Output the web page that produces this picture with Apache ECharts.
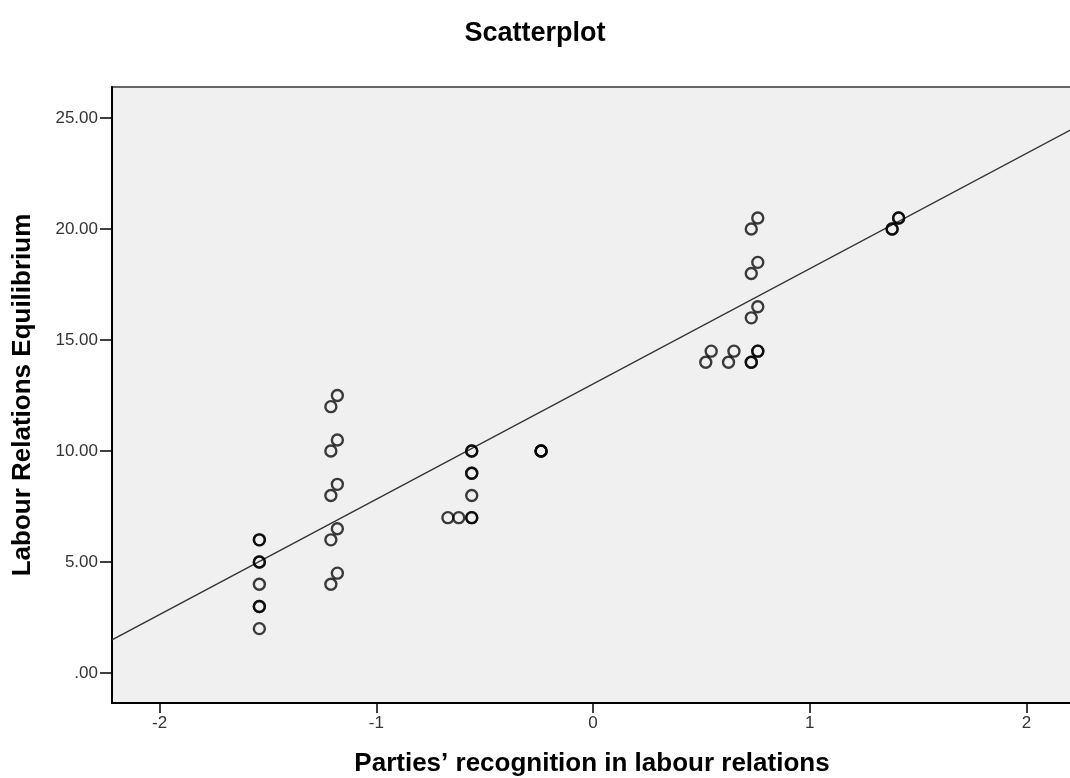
<!DOCTYPE html>
<html>
<head>
<meta charset="utf-8">
<script src="https://cdn.jsdelivr.net/npm/echarts@6/dist/echarts.min.js"></script>
<style>
html,body{margin:0;padding:0;background:#fff;}
#chart{width:1070px;height:778px;}
</style>
</head>
<body>
<div id="chart"></div>
<script>
// Data (x = recognition score, y = equilibrium)
const xValues = [
  -1.54, -1.54, -1.54, -1.54, -1.54, -1.54, -1.54, -1.54,
  -1.21, -1.18, -1.21, -1.18, -1.21, -1.18, -1.21, -1.18, -1.21, -1.18,
  -0.56, -0.56, -0.56, -0.56, -0.56, -0.56, -0.56, -0.62, -0.67,
  -0.24, -0.24, -0.24,
  0.52, 0.545, 0.625, 0.65, 0.73, 0.76, 0.73, 0.76,
  0.73, 0.76, 0.73, 0.76, 0.73, 0.76,
  1.38, 1.41, 1.38, 1.41
];
const yValues = [
  6, 6, 5, 5, 4, 3, 3, 2,
  12, 12.5, 10, 10.5, 8, 8.5, 6, 6.5, 4, 4.5,
  10, 10, 9, 9, 8, 7, 7, 7, 7,
  10, 10, 10,
  14, 14.5, 14, 14.5, 14, 14.5, 14, 14.5,
  16, 16.5, 18, 18.5, 20, 20.5,
  20, 20.5, 20, 20.5
];
const fitLine = [[-2.22, 1.49], [2.21, 24.5]];
const xTicks = [-2, -1, 0, 1, 2];
const yTicks = [0, 5, 10, 15, 20, 25];
const chartTitle = 'Scatterplot';
const xName = 'Parties\u2019 recognition in labour relations';
const yName = 'Labour Relations Equilibrium';

const points = xValues.map((x, i) => [x, yValues[i]]);
const fontFam = '"Liberation Sans", Arial, sans-serif';

const chart = echarts.init(document.getElementById('chart'));
chart.setOption({
  animation: false,
  backgroundColor: '#ffffff',
  title: {
    text: chartTitle,
    left: 'center',
    top: 15,
    textStyle: {fontFamily: fontFam, fontWeight: 'bold', fontSize: 27, color: '#000'}
  },
  grid: {
    left: 112, right: -2, top: 87, bottom: 75,
    outerBoundsMode: 'none',
    containLabel: false,
    show: true,
    backgroundColor: '#f0f0f0',
    borderColor: '#666',
    borderWidth: 2
  },
  xAxis: {
    type: 'value',
    min: -2.22, max: 2.21,
    name: xName,
    nameLocation: 'middle',
    nameGap: 48,
    nameTextStyle: {fontFamily: fontFam, fontWeight: 'bold', fontSize: 26, color: '#000'},
    axisLine: {show: true, onZero: false, lineStyle: {color: '#000', width: 2}},
    axisTick: {show: true, length: 10, customValues: xTicks, lineStyle: {color: '#000', width: 1.5}},
    axisLabel: {customValues: xTicks, fontFamily: fontFam, fontSize: 17, color: '#333', margin: 12,
      formatter: v => String(v)},
    splitLine: {show: false}
  },
  yAxis: {
    type: 'value',
    min: -1.35, max: 26.4,
    name: yName,
    nameLocation: 'middle',
    nameGap: 76,
    nameTextStyle: {fontFamily: fontFam, fontWeight: 'bold', fontSize: 26, color: '#000'},
    axisLine: {show: true, onZero: false, lineStyle: {color: '#000', width: 2}},
    axisTick: {show: true, length: 12, customValues: yTicks, lineStyle: {color: '#000', width: 1.5}},
    axisLabel: {customValues: yTicks, fontFamily: fontFam, fontSize: 17, color: '#333', margin: 14,
      formatter: v => v === 0 ? '.00' : v.toFixed(2)},
    splitLine: {show: false}
  },
  series: [
    {
      type: 'line',
      data: fitLine,
      symbol: 'none',
      lineStyle: {color: '#333', width: 1.4},
      silent: true,
      z: 1
    },
    {
      type: 'scatter',
      data: points,
      symbol: 'circle',
      symbolSize: 11,
      itemStyle: {color: 'rgba(0,0,0,0)', borderColor: 'rgba(0,0,0,0.95)', borderWidth: 2.4},
      z: 2
    }
  ]
});
</script>
</body>
</html>
